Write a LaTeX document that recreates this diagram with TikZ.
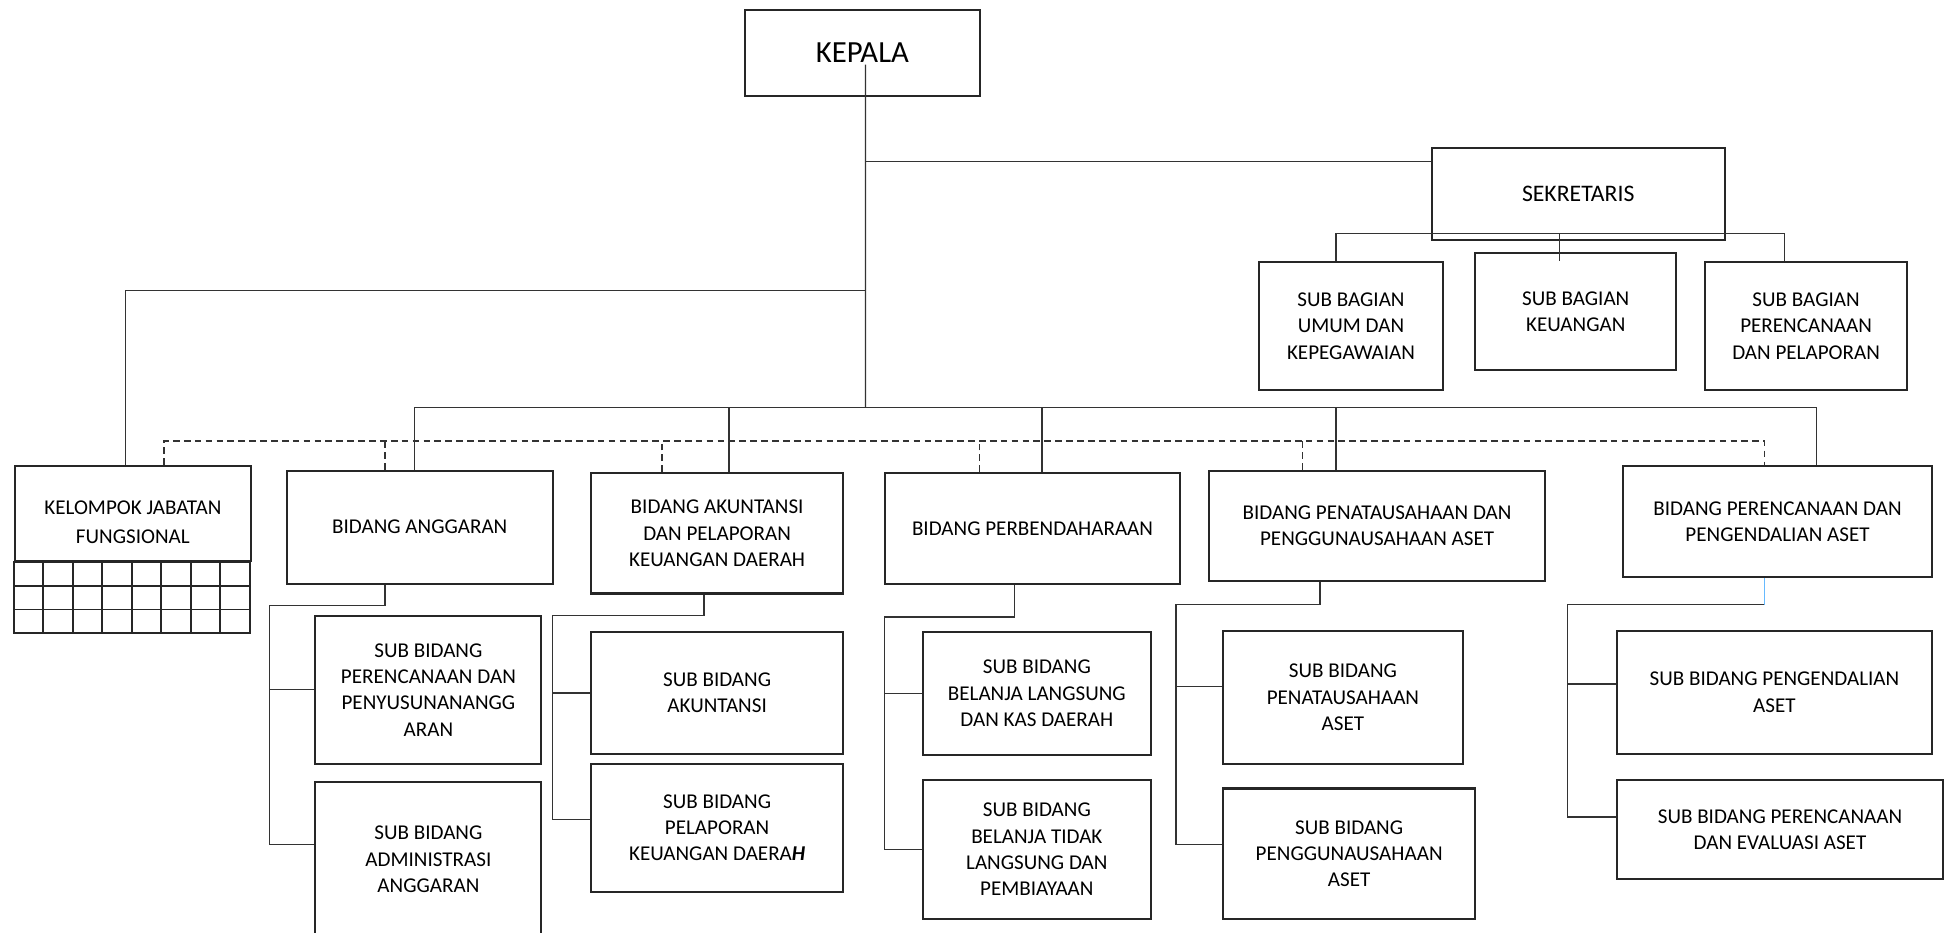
\documentclass[tikz,border=0pt]{standalone}
\usepackage{fontspec}
\setmainfont{Carlito}
\usetikzlibrary{calc}

\newcommand{\ux}{0.024834cm}

\begin{document}
\begin{tikzpicture}[x=\ux, y=-\ux]
    \tikzstyle{box} = [rectangle, draw=black!85, line width=1.2pt, align=center, inner sep=2pt, font=\fontsize{12}{15}\selectfont]
    \tikzstyle{link} = [draw=black!80, line width=0.8pt]
    \tikzstyle{dashlink} = [link, dash pattern=on 3.8pt off 2.4pt]

    \useasboundingbox (0,0) rectangle (1568,751);

    % pimpinan dan sekretariat
    \node [box, minimum width=189*\ux, minimum height=69*\ux, font=\fontsize{17.5}{21}\selectfont] (kepala) at (694.5,42.5) {KEPALA};
    \node [box, minimum width=236*\ux, minimum height=74*\ux, font=\fontsize{13.5}{16}\selectfont] (sek) at (1271,156) {SEKRETARIS};
    \node [box, minimum width=148*\ux, minimum height=103*\ux] (sbumum) at (1088,262.5) {SUB BAGIAN\\UMUM DAN\\KEPEGAWAIAN};
    \node [box, minimum width=162*\ux, minimum height=94*\ux] (sbkeu) at (1269,251) {SUB BAGIAN\\KEUANGAN};
    \node [box, minimum width=163*\ux, minimum height=103*\ux] (sbren) at (1454.5,262.5) {SUB BAGIAN\\PERENCANAAN\\DAN PELAPORAN};

    % kelompok jabatan fungsional
    \node [box, minimum width=190*\ux, minimum height=77*\ux, text height=34pt, font=\fontsize{12}{16.2}\selectfont] (kjf) at (107,413.5) {KELOMPOK JABATAN\\FUNGSIONAL};
    \draw [draw=black!85, line width=1.2pt] (kjf.south west) rectangle ++(190,57);
    \foreach \i in {1,...,7}
        \draw [draw=black!85, line width=1.1pt] ($(kjf.south west)+(\i*23.75,0)$) -- ++(0,57);
    \foreach \j in {1,2}
        \draw [draw=black!85, line width=1.1pt] ($(kjf.south west)+(0,\j*19)$) -- ++(190,0);

    % bidang
    \node [box, minimum width=214*\ux, minimum height=91*\ux] (ba) at (338,424.5) {BIDANG ANGGARAN};
    \node [box, minimum width=203*\ux, minimum height=97*\ux] (bak) at (577.5,429.5) {BIDANG AKUNTANSI\\DAN PELAPORAN\\KEUANGAN DAERAH};
    \node [box, minimum width=237*\ux, minimum height=89*\ux] (bp) at (831.5,425.5) {BIDANG PERBENDAHARAAN};
    \node [box, minimum width=270*\ux, minimum height=89*\ux] (bpa) at (1109,423.5) {BIDANG PENATAUSAHAAN DAN\\PENGGUNAUSAHAAN ASET};
    \node [box, minimum width=249*\ux, minimum height=90*\ux] (bpp) at (1431.5,420) {BIDANG PERENCANAAN DAN\\PENGENDALIAN ASET};

    % sub bidang
    \node [box, minimum width=182*\ux, minimum height=119*\ux] (sba1) at (345,555.5) {SUB BIDANG\\PERENCANAAN DAN\\PENYUSUNANANGG\\ARAN};
    \node [box, minimum width=182*\ux, minimum height=124*\ux] (sba2) at (345,692) {SUB BIDANG\\ADMINISTRASI\\ANGGARAN};
    \node [box, minimum width=203*\ux, minimum height=98*\ux] (sbk1) at (577.5,558) {SUB BIDANG\\AKUNTANSI};
    \node [box, minimum width=203*\ux, minimum height=103*\ux] (sbk2) at (577.5,666.5) {SUB BIDANG\\PELAPORAN\\KEUANGAN DAERA\textbf{\textit{H}}};
    \node [box, minimum width=184*\ux, minimum height=99*\ux] (sbp1) at (835,558.5) {SUB BIDANG\\BELANJA LANGSUNG\\DAN KAS DAERAH};
    \node [box, minimum width=184*\ux, minimum height=112*\ux] (sbp2) at (835,684) {SUB BIDANG\\BELANJA TIDAK\\LANGSUNG DAN\\PEMBIAYAAN};
    \node [box, minimum width=193*\ux, minimum height=107*\ux] (sbpa1) at (1081.5,561.5) {SUB BIDANG\\PENATAUSAHAAN\\ASET};
    \node [box, minimum width=203*\ux, minimum height=105*\ux] (sbpa2) at (1086.5,687.5) {SUB BIDANG\\PENGGUNAUSAHAAN\\ASET};
    \node [box, minimum width=254*\ux, minimum height=99*\ux] (sbpp1) at (1429,557.5) {SUB BIDANG PENGENDALIAN\\ASET};
    \node [box, minimum width=263*\ux, minimum height=80*\ux] (sbpp2) at (1433.5,668) {SUB BIDANG PERENCANAAN\\DAN EVALUASI ASET};

    % garis komando
    \coordinate (top) at ($(kepala.center)+(2.5,9.5)$);
    \coordinate (bus) at (697,328);
    \coordinate (sekin) at ($(sek.north west)+(0,12)$);
    \coordinate (kjfin) at (697,234);
    \coordinate (sekbar) at ($(sek.south)+(0,-6)$);
    \coordinate (sbkeuin) at ($(sbkeu.north)+(-13,7)$);

    \draw [link] (top) -- (bus);
    \draw [link] (top |- sekin) -- (sekin);
    \draw [link] ($(kjf.north)+(-6,0)$) |- (kjfin);
    \draw [link] ($(sbumum.north)+(-12,0)$) |- (sekbar) -| ($(sbren.north)+(-17.5,0)$);
    \draw [link] (sbkeuin) -- (sbkeuin |- sekbar);

    \draw [link] ($(ba.north)+(-4,0)$) |- (bus);
    \draw [link] ($(bak.north)+(9.5,0)$) |- (bus);
    \draw [link] ($(bp.north)+(7.5,0)$) |- (bus);
    \draw [link] ($(bpa.north)+(-33,0)$) |- (bus);
    \draw [link] ($(bpp.north)+(31.5,0)$) |- (bus);

    % garis koordinasi
    \draw [dashlink] ($(kjf.north)+(25,0)$) |- ($(bpp.north)+(-10.5,-19)$) -- ($(bpp.north)+(-10.5,0)$);
    \draw [dashlink] ($(ba.north)+(-28,0)$) -- ++(0,-23);
    \draw [dashlink] ($(bak.north)+(-44.5,0)$) -- ++(0,-25);
    \draw [dashlink] ($(bp.north)+(-42.5,0)$) -- ++(0,-25);
    \draw [dashlink] ($(bpa.north)+(-60,0)$) -- ++(0,-23);

    % sub bidang
    \draw [link] ($(ba.south)+(-28,0)$) -- ++(0,17) -| ($(sba2.west)+(-36,-12)$) -- ($(sba2.west)+(0,-12)$);
    \draw [link] (sba1.west) -- ++(-36,0);
    \draw [link] ($(bak.south)+(-10.5,0)$) -- ++(0,17) -| ($(sbk2.west)+(-30,-6.5)$) -- ($(sbk2.west)+(0,-6.5)$);
    \draw [link] (sbk1.west) -- ++(-30,0);
    \draw [link] ($(bp.south)+(-14.5,0)$) -- ++(0,26) -| ($(sbp2.west)+(-30,0)$) -- (sbp2.west);
    \draw [link] (sbp1.west) -- ++(-30,0);
    \draw [link] ($(bpa.south)+(-46,0)$) -- ++(0,18) -| ($(sbpa2.west)+(-37,-7.5)$) -- ($(sbpa2.west)+(0,-7.5)$);
    \draw [link] ($(sbpa1.west)+(0,-8.5)$) -- ++(-37,0);
    \draw [link, draw=blue!45!cyan!60!white] ($(bpp.south)+(-10.5,0)$) -- ++(0,21) coordinate (ppin);
    \draw [link] (ppin) -| ($(sbpp2.west)+(-39,-10)$) -- ($(sbpp2.west)+(0,-10)$);
    \draw [link] ($(sbpp1.west)+(0,-6.5)$) -- ++(-39,0);
\end{tikzpicture}
\end{document}
